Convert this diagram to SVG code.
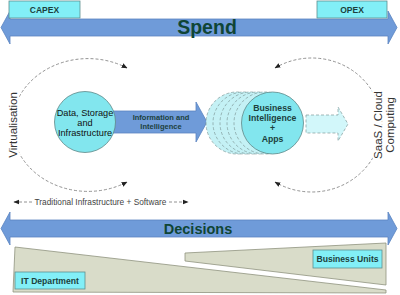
<svg xmlns="http://www.w3.org/2000/svg" width="400" height="295" viewBox="0 0 400 295">
<style>
.bar{fill:#6f9bd9;stroke:#5a84c0;stroke-width:0.8}
.box{fill:#82eff7;stroke:#5e8f8f;stroke-width:0.8}
.lbl{font-family:"Liberation Sans",Arial,sans-serif;font-weight:bold;fill:#1c3f3c;text-anchor:middle}
.big{font-family:"Liberation Sans",Arial,sans-serif;font-weight:bold;fill:#0f4535;text-anchor:middle}
.side{font-family:"Liberation Sans",Arial,sans-serif;fill:#333;text-anchor:middle;font-size:11.5px;paint-order:stroke;stroke:#fff;stroke-width:4px}
.circ{fill:#82e6ee;stroke:#5f8888;stroke-width:0.8}
.ghost{fill:#c4f1f5;stroke:#7f9a9a;stroke-width:0.7;stroke-dasharray:3 2}
.wedge{fill:#d9dcc9;stroke:#8f937f;stroke-width:0.8}
.dash{fill:none;stroke:#777;stroke-width:0.8;stroke-dasharray:3 2}
</style>
<defs>
<marker id="ah" viewBox="0 0 10 10" refX="9" refY="5" markerWidth="6" markerHeight="6" orient="auto-start-reverse" markerUnits="userSpaceOnUse">
<path d="M0,1 L10,5 L0,9 z" fill="#222"/>
</marker>
</defs>
<rect width="400" height="295" fill="#fff"/>

<g id="spend">
<polygon class="bar" points="1,27.5 10,11 10,19 388,19 388,11 397,27.5 388,44 388,36 10,36 10,44"/>
<text class="big" x="207" y="34" font-size="19.5">Spend</text>
</g>
<g id="capex">
<rect class="box" x="9" y="1" width="71" height="17"/>
<text class="lbl" x="44.5" y="12.5" font-size="8.5">CAPEX</text>
</g>
<g id="opex">
<rect class="box" x="317" y="1" width="70" height="17"/>
<text class="lbl" x="352" y="12.5" font-size="8.5">OPEX</text>
</g>

<g id="connectors">
<path class="dash" d="M127,68 A76,66.4 0 1 0 127,182" marker-start="url(#ah)" marker-end="url(#ah)"/>
<path class="dash" d="M275,68 A70,67 0 1 1 275,182" marker-start="url(#ah)" marker-end="url(#ah)"/>
<line class="dash" x1="14" y1="202" x2="32" y2="202" marker-start="url(#ah)"/>
<line class="dash" x1="169" y1="202" x2="188" y2="202" marker-end="url(#ah)"/>
</g>

<g id="virtualisation">
<text class="side" transform="translate(16.5,125) rotate(-90)">Virtualisation</text>
</g>
<g id="saas">
<text class="side" transform="translate(382,125) rotate(-90)">SaaS / Cloud</text>
<text class="side" transform="translate(394,125) rotate(-90)">Computing</text>
</g>

<g id="info-arrow">
<polygon class="bar" points="112,111 196,111 196,102 207,122 196,142 196,133 112,133"/>
<text class="lbl" x="161" y="119.5" font-size="7.5">Information and</text>
<text class="lbl" x="161" y="129" font-size="7.5">Intelligence</text>
</g>

<g id="data">
<circle class="circ" cx="85" cy="122" r="30.5"/>
<text class="lbl" x="85" y="116" font-size="9.2" font-weight="normal" style="font-weight:normal;fill:#111">Data, Storage</text>
<text class="lbl" x="85" y="126" font-size="9.2" style="font-weight:normal;fill:#111">and</text>
<text class="lbl" x="85" y="136" font-size="9.2" style="font-weight:normal;fill:#111">Infrastructure</text>
</g>

<g id="bi">
<circle class="ghost" cx="237" cy="123" r="31"/>
<circle class="ghost" cx="244" cy="123" r="31"/>
<circle class="ghost" cx="251" cy="123" r="31"/>
<circle class="ghost" cx="258" cy="123" r="31"/>
<circle class="ghost" cx="265" cy="123" r="31"/>
<circle class="circ" cx="272.5" cy="123" r="31"/>
<text class="lbl" x="272.5" y="111" font-size="8.7">Business</text>
<text class="lbl" x="272.5" y="121" font-size="8.7">Intelligence</text>
<text class="lbl" x="272.5" y="131" font-size="8.7">+</text>
<text class="lbl" x="272.5" y="142" font-size="8.7">Apps</text>
</g>

<g id="future-arrow">
<polygon class="ghost" style="fill:#d2f7fa" points="306,115 338,115 338,107 348,124 338,141 338,133 306,133"/>
</g>

<g id="traditional">
<text x="100.5" y="205" font-family="Liberation Sans, Arial, sans-serif" font-size="8.3" fill="#444" text-anchor="middle">Traditional Infrastructure + Software</text>
</g>

<g id="decisions">
<polygon class="bar" points="1,228.5 10,212 10,220 388,220 388,212 397,228.5 388,245 388,237 10,237 10,245"/>
<text class="big" x="198" y="233.5" font-size="14.5">Decisions</text>
</g>

<g id="it-wedge">
<polygon class="wedge" points="15,247 386,290 386,293 13,292"/>
</g>
<g id="bu-wedge">
<polygon class="wedge" points="185,253 386,243 386,285 185,261"/>
</g>
<g id="it-dept">
<rect class="box" x="15" y="272" width="70" height="17"/>
<text class="lbl" x="50" y="283.5" font-size="8.6">IT Department</text>
</g>
<g id="business-units">
<rect class="box" x="313" y="250" width="69" height="18"/>
<text class="lbl" x="347.5" y="262" font-size="8.6">Business Units</text>
</g>
</svg>
